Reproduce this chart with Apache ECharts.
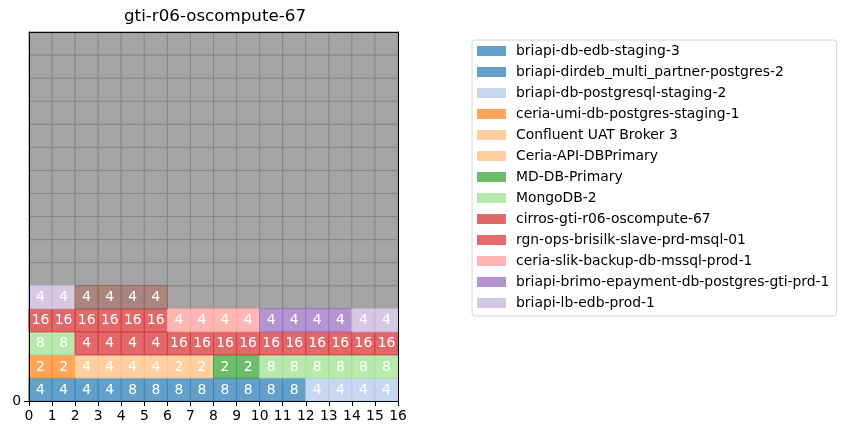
<!DOCTYPE html>
<html>
<head>
<meta charset="utf-8">
<script src="https://cdn.jsdelivr.net/npm/echarts@6/dist/echarts.min.js"></script>
<style>html,body{margin:0;padding:0;background:#fff}#c{width:844px;height:435px}</style>
</head>
<body>
<div id="c"></div>
<script>
// ---- data ----
const chartTitle = 'gti-r06-oscompute-67';
const gridCols = 16;
const gridRows = 16;
const xTickLabels = ['0','1','2','3','4','5','6','7','8','9','10','11','12','13','14','15','16'];
const yTickLabels = ['0'];
const vmNames = [
  'briapi-db-edb-staging-3',
  'briapi-dirdeb_multi_partner-postgres-2',
  'briapi-db-postgresql-staging-2',
  'ceria-umi-db-postgres-staging-1',
  'Confluent UAT Broker 3',
  'Ceria-API-DBPrimary',
  'MD-DB-Primary',
  'MongoDB-2',
  'cirros-gti-r06-oscompute-67',
  'rgn-ops-brisilk-slave-prd-msql-01',
  'ceria-slik-backup-db-mssql-prod-1',
  'briapi-brimo-epayment-db-postgres-gti-prd-1',
  'briapi-lb-edb-prod-1',
  'unlisted-vm'
];
const vmSizes = [4, 8, 4, 2, 4, 2, 2, 8, 4, 16, 4, 4, 4, 4];
const vmInLegend = [true,true,true,true,true,true,true,true,true,true,true,true,true,false];

// ---- styles ----
const fillPalette = ['#62a0ca','#62a0ca','#c6d8ef','#ffa556','#ffcfa1','#ffcfa1','#6bbc6b','#b7e9ad','#e26869','#e26869','#ffb7b5','#b495d1','#d6c8e2','#a9857e'];
const edgePalette = ['#3f86bd','#3f86bd','#b4cbea','#ff8f2c','#ffc28a','#ffc28a','#44aa44','#a4e297','#d93c3d','#d93c3d','#ffa4a2','#9f77c4','#cab9da','#95675e'];
const FONT = 'DejaVu Sans';

// build cells from sizes (row-major fill)
const emptyCells = [];
for (let r = 0; r < gridRows; r++) for (let c = 0; c < gridCols; c++) emptyCells.push([c, r]);
let pos = 0;
const vmCells = vmSizes.map(function (s) {
  const arr = [];
  for (let k = 0; k < s; k++) {
    arr.push([pos % gridCols, Math.floor(pos / gridCols), s]);
    pos++;
  }
  return arr;
});

function makeRender(fill, edge, withText) {
  return function (params, api) {
    const x = api.value(0), y = api.value(1);
    const p0 = api.coord([x, y + 1]);
    const p1 = api.coord([x + 1, y]);
    const children = [{
      type: 'rect',
      shape: { x: p0[0], y: p0[1], width: p1[0] - p0[0], height: p1[1] - p0[1] },
      style: { fill: fill, stroke: edge, lineWidth: 1 }
    }];
    if (withText) {
      children.push({
        type: 'text',
        style: {
          text: String(api.value(2)),
          x: (p0[0] + p1[0]) / 2, y: (p0[1] + p1[1]) / 2 + 0.5,
          align: 'center', verticalAlign: 'middle',
          fill: '#ffffff', fontSize: 13.9, fontFamily: FONT
        }
      });
    }
    return { type: 'group', children: children };
  };
}

const series = [{
  type: 'custom', name: '__bg', silent: true,
  renderItem: makeRender('#a4a4a4', '#878787', false),
  encode: { x: 0, y: 1 },
  data: emptyCells, z: 1
}];
vmNames.forEach(function (n, i) {
  series.push({
    type: 'custom', name: n,
    renderItem: makeRender(fillPalette[i], edgePalette[i], true),
    itemStyle: { color: fillPalette[i] },
    encode: { x: 0, y: 1 },
    data: vmCells[i], z: 2
  });
});

const chart = echarts.init(document.getElementById('c'), null, { renderer: 'canvas' });
const axisLineStyle = { show: true, onZero: false, lineStyle: { color: '#000', width: 1 } };
chart.setOption({
  animation: false,
  backgroundColor: '#fff',
  textStyle: { fontFamily: FONT },
  graphic: [{
    type: 'text', left: 124, top: 8,
    style: { text: chartTitle, fontSize: 16.7, fontFamily: FONT, fill: '#000' }
  }],
  grid: { left: 29, right: 446, top: 32, bottom: 34 },
  legend: {
    orient: 'vertical', left: 472, top: 40,
    data: vmNames.filter(function (n, i) { return vmInLegend[i]; }),
    icon: 'rect', itemWidth: 29, itemHeight: 10, itemGap: 7,
    padding: [4, 7, 6, 5],
    borderColor: '#d6d6d6', borderWidth: 1, borderRadius: 3,
    backgroundColor: '#fff',
    textStyle: { fontSize: 13.9, fontFamily: FONT, color: '#000', padding: [0, 0, 0, 5], lineHeight: 14 },
    selectedMode: false
  },
  xAxis: [{
    type: 'value', min: 0, max: gridCols, interval: 1, position: 'bottom', z: 10,
    axisLine: axisLineStyle,
    axisTick: { show: true, inside: false, length: 5, lineStyle: { color: '#000' } },
    axisLabel: { color: '#000', fontSize: 13.9, fontFamily: FONT, margin: 8,
      formatter: function (v) { return xTickLabels[v] || ''; } },
    splitLine: { show: false }
  }, {
    type: 'value', min: 0, max: gridCols, position: 'top', z: 10,
    axisLine: axisLineStyle, axisTick: { show: false }, axisLabel: { show: false }, splitLine: { show: false }
  }],
  yAxis: [{
    type: 'value', min: 0, max: gridRows, interval: 1, position: 'left', z: 10,
    axisLine: axisLineStyle,
    axisTick: { show: true, length: 5, lineStyle: { color: '#000' }, customValues: [0] },
    axisLabel: { color: '#000', fontSize: 13.9, fontFamily: FONT, margin: 8, customValues: [0],
      formatter: function (v) { return v === 0 ? yTickLabels[0] : ''; } },
    splitLine: { show: false }
  }, {
    type: 'value', min: 0, max: gridRows, position: 'right', z: 10,
    axisLine: axisLineStyle, axisTick: { show: false }, axisLabel: { show: false }, splitLine: { show: false }
  }],
  series: series
});
</script>
</body>
</html>
